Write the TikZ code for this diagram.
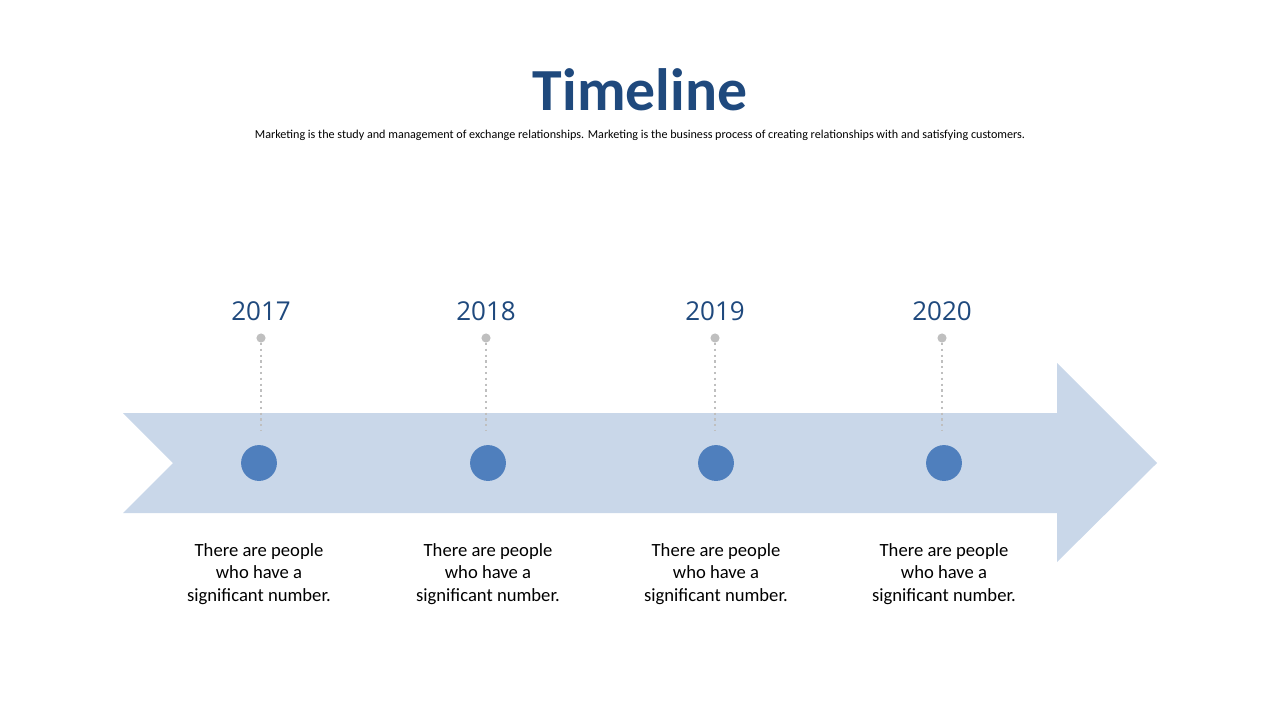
\documentclass[tikz,border=0pt]{standalone}
\usepackage{fontspec}
\setmainfont{Carlito}
\newfontfamily\yearfont{Open Sans}
\usepackage{xcolor}
\definecolor{titleblue}{HTML}{1F497D}
\definecolor{arrowblue}{HTML}{C9D7E9}
\definecolor{dotblue}{HTML}{4F7FBD}
\definecolor{stemgray}{HTML}{BFBFBF}

\tikzset{
  yearlabel/.style={font=\yearfont\fontsize{14.8}{16}\selectfont, text=titleblue},
  eventdot/.style={circle, fill=dotblue, minimum size=20.4pt, inner sep=0},
  pindot/.style={circle, fill=stemgray, minimum size=5.2pt, inner sep=0},
  stem/.style={stemgray, line width=1.3pt, dash pattern=on 1.3pt off 2pt},
  note/.style={align=center, font=\fontsize{10.6}{12.8}\selectfont}
}

\begin{document}
\begin{tikzpicture}[x=0.02cm, y=-0.02cm]
			\useasboundingbox (0,0) rectangle (1280,720);

			% Title and subtitle
			\node[font=\bfseries\fontsize{34}{40}\selectfont, text=titleblue] (title) at (640,90) {Timeline};
			\node[font=\fontsize{6.9}{8}\selectfont] (subtitle) at (640,135) {Marketing is the study and management of exchange relationships. Marketing is the business process of creating relationships with and satisfying customers.};

			% Draw the arrow band
			\fill[arrowblue] (123,413) -- (1057,413) -- (1057,363) -- (1157,463) -- (1057,562) -- (1057,513) -- (123,513) -- (173,463) -- cycle;

			% Years, pins and dots
			\foreach \i/\yr/\xp/\xd in {1/2017/261/259, 2/2018/486/488, 3/2019/715/716, 4/2020/942/944} {
				\node[yearlabel] (year\i) at (\xp,311) {\yr};
				\node[pindot] (pin\i) at (\xp,338) {};
				\coordinate (stemend\i) at (\xp,430);
				\draw[stem] (pin\i) -- (stemend\i);
				\node[eventdot] (dot\i) at (\xd,463) {};
				\node[note] (note\i) at (\xd,574) {There are people\\who have a\\significant number.};
			}
		\end{tikzpicture}
\end{document}
